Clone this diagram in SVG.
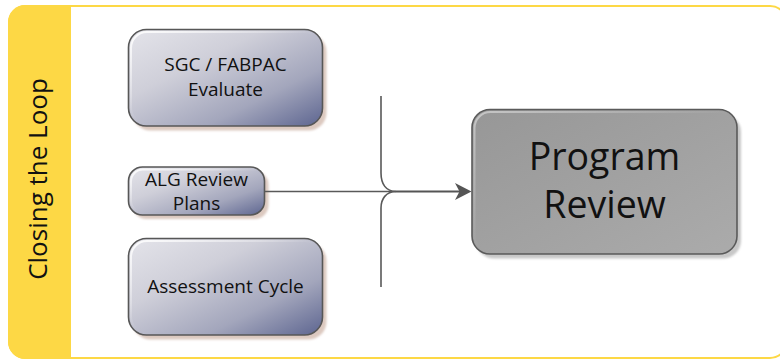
<svg xmlns="http://www.w3.org/2000/svg" width="780" height="360" viewBox="0 0 780 360">
  <defs>
    <linearGradient id="nodeFill" x1="0" y1="0" x2="1" y2="1">
      <stop offset="0" stop-color="#e4e4ea"/>
      <stop offset="0.35" stop-color="#cfcfd9"/>
      <stop offset="0.7" stop-color="#a3a6bc"/>
      <stop offset="1" stop-color="#5d6590"/>
    </linearGradient>
    <linearGradient id="bevel" x1="0" y1="0" x2="1" y2="1">
      <stop offset="0" stop-color="#ffffff" stop-opacity="0.9"/>
      <stop offset="0.5" stop-color="#ffffff" stop-opacity="0"/>
    </linearGradient>
    <linearGradient id="prFill" x1="0" y1="0" x2="1" y2="1">
      <stop offset="0" stop-color="#979797"/>
      <stop offset="1" stop-color="#ababab"/>
    </linearGradient>
    <filter id="shadow" x="-10%" y="-10%" width="130%" height="130%">
      <feGaussianBlur stdDeviation="0.8"/>
    </filter>
    <style>
      .frame { fill: #ffffff; stroke: #fdd845; stroke-width: 2; }
      .band { fill: #fdd845; }
      .node { fill: url(#nodeFill); stroke: #575757; stroke-width: 1.6; }
      .bev { fill: none; stroke: url(#bevel); stroke-width: 2; }
      .shadow { fill: #dcc9c0; filter: url(#shadow); }
      .prshadow { fill: #c8c8c8; filter: url(#shadow); }
      .pr { fill: url(#prFill); stroke: #5a5a5a; stroke-width: 1.6; }
      .label { font-family: "Open Sans", "Noto Sans", "DejaVu Sans", sans-serif; font-size: 19px; fill: #111111; text-anchor: middle; }
      .big { font-family: "Open Sans", "Noto Sans", "DejaVu Sans", sans-serif; font-size: 37.5px; fill: #111111; text-anchor: middle; }
      .side { font-family: "Open Sans", "Noto Sans", "DejaVu Sans", sans-serif; font-size: 26px; fill: #111111; text-anchor: middle; }
      .line { fill: none; stroke: #595959; stroke-width: 1.6; }
      .thick { fill: none; stroke: #555555; stroke-width: 2.2; }
    </style>
  </defs>

  <g id="frame">
    <rect class="frame" x="9" y="6" width="778" height="352" rx="17" ry="17"/>
    <path class="band" d="M8,22 A17,17 0 0 1 25,5 H71 V359 H25 A17,17 0 0 1 8,342 Z"/>
    <text class="side" transform="translate(47,179) rotate(-90)" x="0" y="0">Closing the Loop</text>
  </g>

  <g id="node-sgc">
    <rect class="shadow" x="132.5" y="34" width="194" height="96.5" rx="18"/>
    <rect class="node" x="128.5" y="29.5" width="194" height="96.5" rx="18"/>
    <rect class="bev" x="131" y="32" width="189" height="91.5" rx="16"/>
    <text class="label" x="225.5" y="71">SGC / FABPAC</text>
    <text class="label" x="225.5" y="96">Evaluate</text>
  </g>

  <g id="node-alg">
    <rect class="shadow" x="132.5" y="171" width="136" height="48" rx="14"/>
    <rect class="node" x="128.5" y="167" width="136" height="48" rx="14"/>
    <rect class="bev" x="131" y="169.5" width="131" height="43" rx="12"/>
    <text class="label" x="196.5" y="186">ALG Review</text>
    <text class="label" x="196.5" y="210">Plans</text>
  </g>

  <g id="node-assessment">
    <rect class="shadow" x="132.5" y="243" width="194" height="96.5" rx="18"/>
    <rect class="node" x="128.5" y="238.5" width="194" height="96.5" rx="18"/>
    <rect class="bev" x="131" y="241" width="189" height="91.5" rx="16"/>
    <text class="label" x="225.5" y="293">Assessment Cycle</text>
  </g>

  <g id="node-program-review">
    <rect class="prshadow" x="476" y="114" width="265" height="144.5" rx="18"/>
    <rect class="pr" x="472" y="109.5" width="265" height="144.5" rx="18"/>
    <rect class="bev" x="474.5" y="112" width="260" height="139.5" rx="16" opacity="0.5"/>
    <text class="big" x="604.5" y="170">Program</text>
    <text class="big" x="604.5" y="218">Review</text>
  </g>

  <g id="connectors">
    <path class="line" d="M264.5,191.5 H396"/>
    <path class="line" d="M381,96 V173 C381,184 386,191.5 396,191.5"/>
    <path class="line" d="M396,191.5 C386,191.5 381,199 381,208 V287"/>
    <path class="thick" d="M396,191.5 H462"/>
    <path d="M455,183 L471.5,191.5 L455,200 L459.5,191.5 Z" fill="#555555"/>
  </g>
</svg>
